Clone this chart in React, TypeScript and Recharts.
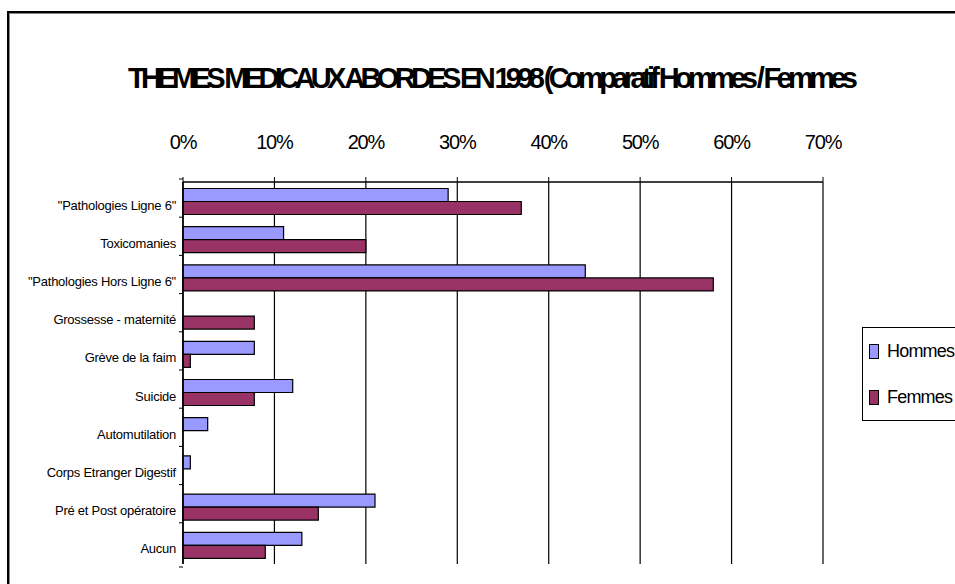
import { BarChart, Bar, XAxis, YAxis, CartesianGrid, Legend } from "recharts";

const CATEGORIES = [
  '"Pathologies Ligne 6"',
  "Toxicomanies",
  '"Pathologies Hors Ligne 6"',
  "Grossesse - maternité",
  "Grève de la faim",
  "Suicide",
  "Automutilation",
  "Corps Etranger Digestif",
  "Pré et Post opératoire",
  "Aucun",
];
const HOMMES = [0.29, 0.11, 0.44, 0, 0.078, 0.12, 0.027, 0.008, 0.21, 0.13];
const FEMMES = [0.37, 0.2, 0.58, 0.078, 0.008, 0.078, 0, 0, 0.148, 0.09];
const PERCENT_TICKS = [0, 0.1, 0.2, 0.3, 0.4, 0.5, 0.6, 0.7];
const SERIES = [
  { key: "hommes", label: "Hommes", color: "#9999ff" },
  { key: "femmes", label: "Femmes", color: "#993366" },
];
const TITLE = "THEMES MEDICAUX ABORDES EN 1998 (Comparatif Hommes / Femmes";

const W = 955;
const H = 584;
const MARGIN = { top: 122, right: 132, bottom: 20, left: 0 };
const BAND = (H - MARGIN.top - MARGIN.bottom) / CATEGORIES.length;
const FONT = '"Liberation Sans", Arial, sans-serif';

const data = CATEGORIES.map((name, i) => ({
  name,
  hommes: HOMMES[i],
  femmes: FEMMES[i],
}));

function PercentTick({ x, y, payload }: any) {
  return (
    <text
      x={x}
      y={y}
      dy={-28}
      textAnchor="middle"
      fontFamily={FONT}
      fontSize={20}
      letterSpacing={-1.2}
      fill="#000"
    >
      {Math.round(payload.value * 100)}%
    </text>
  );
}

function CategoryTick({ x, y, payload }: any) {
  const last = payload.index === CATEGORIES.length - 1;
  return (
    <g>
      <line x1={x - 4} x2={x} y1={y - BAND / 2} y2={y - BAND / 2} stroke="#000" />
      {last && <line x1={x - 4} x2={x} y1={y + BAND / 2} y2={y + BAND / 2} stroke="#000" />}
      <text
        x={x - 7}
        y={y}
        dy={8.5}
        textAnchor="end"
        fontFamily={FONT}
        fontSize={13}
        letterSpacing={-0.25}
        fill="#000"
      >
        {payload.value}
      </text>
    </g>
  );
}

function LegendBox() {
  return (
    <div
      style={{
        width: 110,
        height: 94,
        border: "1px solid #000",
        background: "#fff",
        boxSizing: "border-box",
        paddingLeft: 6,
      }}
    >
      {SERIES.map((s) => (
        <div key={s.key} style={{ display: "flex", alignItems: "center", height: 46 }}>
          <span
            style={{
              display: "inline-block",
              width: 8,
              height: 13,
              background: s.color,
              border: "1px solid #000",
              marginRight: 8,
            }}
          />
          <span style={{ fontFamily: FONT, fontSize: 18, letterSpacing: -0.8, color: "#000" }}>
            {s.label}
          </span>
        </div>
      ))}
    </div>
  );
}

export default function App() {
  return (
    <div
      style={{
        position: "absolute",
        left: 0,
        top: 0,
        width: W,
        height: H,
        overflow: "hidden",
        background: "#fff",
      }}
    >
      <div
        style={{
          position: "absolute",
          left: 7,
          top: 11,
          width: W + 20,
          height: H + 20,
          borderLeft: "2px solid #000",
          borderTop: "2px solid #000",
          boxShadow: "1px 1px 0 #888 inset",
        }}
      />
      <svg width={W} height={110} style={{ position: "absolute", left: 0, top: 0 }}>
        <text
          x={493}
          y={88}
          textAnchor="middle"
          fontFamily={FONT}
          fontWeight="bold"
          fontSize={29}
          textLength={730}
          lengthAdjust="spacing"
          fill="#000"
        >
          {TITLE}
        </text>
      </svg>
      <div style={{ position: "absolute", left: 0, top: 0 }}>
        <BarChart
          width={W}
          height={H}
          data={data}
          layout="vertical"
          margin={MARGIN}
          barCategoryGap="17%"
          barGap={0}
        >
          <CartesianGrid horizontal={false} stroke="#000" strokeWidth={1.2} />
          <XAxis
            type="number"
            orientation="top"
            domain={[0, 0.7]}
            ticks={PERCENT_TICKS}
            height={60}
            tickSize={5}
            tickMargin={0}
            axisLine={{ stroke: "#000", strokeWidth: 1.5 }}
            tickLine={{ stroke: "#000" }}
            tick={<PercentTick />}
            interval={0}
          />
          <XAxis
            xAxisId="bottom"
            type="number"
            orientation="bottom"
            domain={[0, 0.7]}
            height={0}
            tick={false}
            tickLine={false}
            axisLine={{ stroke: "#888", strokeWidth: 1.5 }}
          />
          <YAxis
            type="category"
            dataKey="name"
            width={183}
            tickSize={0}
            tickMargin={0}
            tickLine={false}
            axisLine={{ stroke: "#000", strokeWidth: 1.5 }}
            tick={<CategoryTick />}
            interval={0}
          />
          <YAxis
            yAxisId="right"
            type="category"
            dataKey="name"
            orientation="right"
            width={0}
            tick={false}
            tickLine={false}
            axisLine={{ stroke: "#888", strokeWidth: 1.5 }}
          />
          {SERIES.map((s) => (
            <Bar
              key={s.key}
              dataKey={s.key}
              name={s.label}
              fill={s.color}
              stroke="#000"
              strokeWidth={1.2}
              isAnimationActive={false}
            />
          ))}
          <Legend
            layout="vertical"
            align="center"
            verticalAlign="middle"
            content={<LegendBox />}
            wrapperStyle={{ left: 862, top: 327, width: 110, height: 94 }}
          />
        </BarChart>
      </div>
    </div>
  );
}
